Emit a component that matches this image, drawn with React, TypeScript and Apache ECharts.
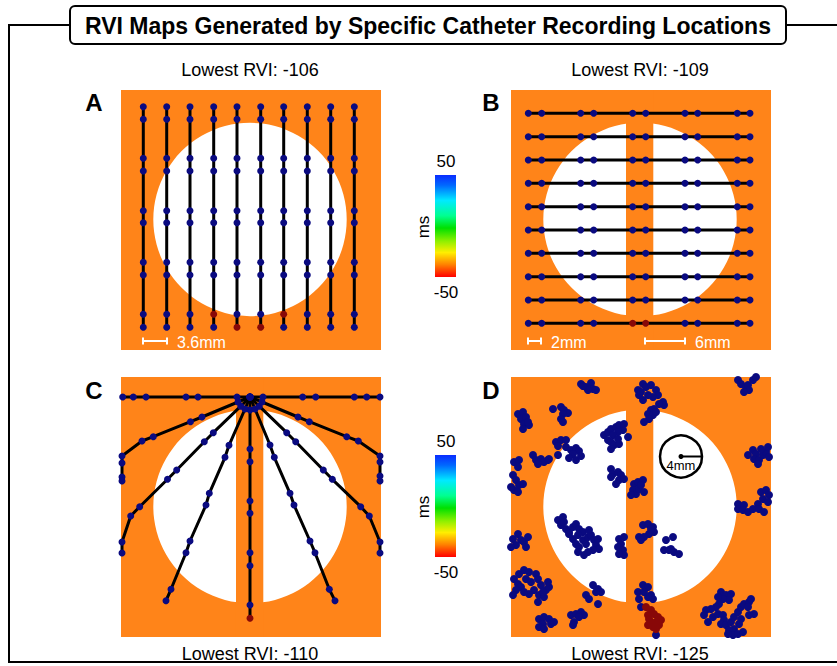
import React, { useEffect, useRef } from "react";
import * as echarts from "echarts";

// ---------- DATA (panel-local units, 0..260, origin at the top-left of each map) ----------
const TITLE = "RVI Maps Generated by Specific Catheter Recording Locations";
const PANEL_LETTERS = ["A", "B", "C", "D"];
const LOWEST_RVI = [-106, -109, -110, -125];
const COLORBAR_TICKS = ["50", "-50"];
const COLORBAR_UNIT = "ms";
const SCALE_LABELS = ["3.6mm", "2mm", "6mm"];
const RADIUS_LABEL = "4mm";

// tissue geometry: [kind(0 circle / 1 strip), a, b, c]
const CIRCLE = [0, 129, 129.5, 96.7];
const STRIP = [1, 115, 142.3, 0];

// Panel A: vertical catheters
const A_LINE_X = [22.3, 45.7, 69, 92.7, 116, 139.7, 162.7, 186.3, 209.7, 233.3];
const A_POINT_Y = [16.7, 29.3, 68.3, 81, 120.7, 132.7, 172.3, 185, 224.3, 237.3];
const A_RED: [number, number][] = [[92.7, 224.3], [116, 237.3], [139.7, 237.3], [162.7, 224.3]];

// Panel B: horizontal catheters
const B_LINE_Y = [23.3, 46.7, 70, 93.3, 116.7, 140, 163.3, 186.7, 210, 233.3];
const B_POINT_X = [17.3, 30.7, 69.7, 82.7, 121.7, 134.7, 174, 186.7, 226.3, 239];
const B_RED: [number, number][] = [[121.7, 233.3], [134.7, 233.3]];

// Panel C: radial catheters from a hub
const C_SPOKES: [number, number][][] = [
  [[129, 20], [129, 33], [129, 72], [129, 84.7], [129, 124], [129, 136.3], [129, 175.7], [129, 188.7], [129, 228], [129, 241.3]],
  [[129, 20], [134, 32], [149, 68], [153.3, 80.3], [169, 116.3], [173, 128], [189, 164], [194, 175.7], [208.3, 212.3], [214, 223.7]],
  [[129, 20], [124, 32], [108, 68.3], [104, 80.3], [88.3, 116.3], [85, 128], [69, 164], [65, 175.7], [50, 212.3], [45, 223.7]],
  [[129, 20], [138.2, 29.2], [165.7, 55.7], [174.7, 64.7], [202.3, 93], [211.3, 102.3], [239.7, 129.7], [248.3, 139], [259, 165], [259, 176]],
  [[129, 20], [119.8, 29.2], [92.3, 55.7], [83.3, 64.7], [55.7, 93], [46.5, 102.3], [18.7, 129.7], [9.7, 139], [1, 165], [1, 176]],
  [[129, 20], [141, 25], [177, 40], [188.3, 44.7], [225.7, 59.7], [237.3, 64], [259, 79], [259, 85], [259, 99], [259, 104]],
  [[129, 20], [117, 25], [81, 40], [69.5, 44.7], [32.3, 59.7], [21, 64], [1, 79], [1, 86], [1, 100], [1, 104]],
  [[129, 20], [142, 20], [181.7, 20], [194.7, 20], [233.3, 20], [245.7, 20], [259, 20]],
  [[129, 20], [116, 20], [77, 20], [65, 20], [25, 20], [12.3, 20], [1.7, 20]],
];
const C_RED: [number, number][] = [[129, 241.3]];

// Panel D: scattered recording points
const D_BLUE: [number, number][] = [
  [70, 7], [75, 10], [80, 6], [82, 12], [85, 13], [77, 13], [72, 9],
  [127, 13], [128, 18],
  [7, 37], [12, 35], [10, 42], [15, 40], [13, 47], [18, 48], [12, 52], [17, 45],
  [42, 32], [50, 30], [53, 33], [57, 36], [52, 37], [50, 42], [52, 45],
  [45, 65], [50, 63], [55, 63], [47, 69], [55, 70], [60, 73], [65, 71], [68, 74], [62, 77], [58, 81], [65, 83], [70, 79], [47, 78],
  [22, 78], [25, 83], [30, 82], [33, 85], [37, 83], [27, 87], [38, 82],
  [3, 85], [8, 83], [7, 90], [2, 98], [5, 103], [8, 108], [12, 107], [3, 113], [7, 115], [0, 110],
  [93, 58], [97, 55], [100, 52], [105, 50], [108, 48], [112, 53], [107, 55], [102, 58], [97, 63], [100, 65], [103, 68], [108, 67], [100, 72], [117, 60], [107, 62], [113, 47],
  [100, 92], [102, 97], [107, 95], [110, 98], [108, 103], [113, 102], [105, 107], [100, 100],
  [123, 107], [127, 105], [122, 113], [125, 117], [128, 112], [120, 118],
  [132, 7], [135, 10], [140, 8], [145, 13], [147, 18], [142, 20], [137, 18], [152, 25], [153, 28], [148, 27], [143, 32], [140, 33], [137, 37], [142, 38], [138, 42], [145, 35], [133, 45], [130, 15], [132, 23],
  [227, 3], [230, 7], [235, 10], [238, 13], [237, 8], [242, 3], [245, 0], [233, 15],
  [237, 78], [242, 73], [245, 77], [243, 82], [248, 83], [252, 78], [255, 75], [257, 70], [250, 72], [258, 80], [247, 87],
  [250, 115], [255, 113], [258, 118], [252, 122], [257, 125], [247, 127], [227, 127], [233, 128],
  [132, 103], [130, 108], [133, 115],
  [47, 143], [52, 140], [50, 148], [55, 152], [58, 155], [62, 150], [65, 147], [68, 152], [72, 155], [67, 158], [62, 162], [65, 167], [68, 170], [72, 163], [75, 167], [77, 160], [80, 158], [83, 163], [85, 168], [88, 172], [82, 173], [77, 175], [73, 178], [67, 175], [58, 157], [53, 145], [78, 153], [87, 162],
  [108, 162], [113, 160], [110, 167], [107, 170], [112, 173], [113, 178], [108, 177],
  [2, 162], [7, 157], [10, 163], [5, 168], [13, 165], [15, 170], [17, 160], [0, 170],
  [3, 202], [7, 207], [10, 210], [5, 213], [8, 197], [13, 193], [18, 195], [15, 202], [20, 205], [25, 197], [27, 202], [30, 208], [23, 213], [18, 217], [28, 218], [33, 220], [27, 225], [35, 213], [38, 210], [37, 205], [2, 218], [13, 215], [32, 215],
  [82, 208], [87, 212], [90, 215], [85, 215], [75, 218], [78, 222], [87, 227],
  [60, 238], [65, 237], [70, 235], [73, 238], [68, 240], [63, 245], [62, 248],
  [28, 242], [33, 240], [38, 242], [40, 247], [32, 247], [28, 250], [33, 252], [43, 245],
  [128, 160], [127, 215], [128, 222], [130, 230],
  [132, 148], [137, 147], [142, 150], [143, 155], [138, 157], [133, 160], [130, 163], [140, 152],
  [155, 163], [162, 160], [153, 173], [158, 173], [163, 175], [168, 177], [160, 172],
  [227, 132], [232, 133], [237, 135], [242, 132], [248, 132], [253, 135],
  [132, 208], [137, 210], [133, 215], [140, 218], [142, 222], [137, 220],
  [145, 258],
  [210, 215], [215, 218], [220, 217], [218, 223], [212, 222], [207, 220], [208, 227], [205, 230], [200, 232], [195, 233], [193, 238], [197, 245], [202, 240], [207, 237], [212, 238], [213, 243], [210, 247], [215, 248], [220, 245], [223, 240], [227, 235], [230, 230], [233, 227], [238, 225], [240, 222], [237, 230], [243, 237], [238, 238], [230, 242], [228, 247], [223, 252], [218, 253], [222, 258], [227, 257], [232, 255], [217, 257],
];
const D_RED: [number, number][] = [
  [135, 230], [140, 233], [143, 237], [147, 240], [137, 238], [140, 245], [145, 245], [148, 248], [137, 248], [142, 250], [145, 252], [150, 243], [138, 242],
];
// scale bars: [x0, x1, y, labelIndex]
const A_SCALEBARS = [[22, 46, 251, 0]];
const B_SCALEBARS = [[17, 30, 251, 1], [134, 174, 251, 2]];
// radius marker in D: [cx, cy, r]
const D_RADIUS = [[170, 79.5, 21]];

// ---------- STYLE ----------
const ORANGE = "#ff8419";
const NAVY = "#0a0a80";
const DARKRED = "#880808";
const FONT = "'Liberation Sans', Arial, Helvetica, sans-serif";
const PANELS = [
  { left: 121, top: 90 },
  { left: 511, top: 90 },
  { left: 121, top: 377 },
  { left: 511, top: 377 },
];
const SIZE = 260;

function isRed(list: [number, number][], x: number, y: number) {
  return list.some((p) => p[0] === x && p[1] === y);
}

function shapeSeries(i: number, withStrip: boolean) {
  return {
    type: "custom",
    xAxisIndex: i,
    yAxisIndex: i,
    silent: true,
    clip: true,
    z: 1,
    data: withStrip ? [CIRCLE, STRIP] : [CIRCLE],
    renderItem: (params: any, api: any) => {
      const kind = api.value(0);
      if (kind === 0) {
        const c = api.coord([api.value(1), api.value(2)]);
        const r = api.size([api.value(3), 0])[0];
        return { type: "circle", shape: { cx: c[0], cy: c[1], r }, style: { fill: "#ffffff" } };
      }
      const p0 = api.coord([api.value(1), 0]);
      const p1 = api.coord([api.value(2), SIZE]);
      return {
        type: "rect",
        shape: { x: p0[0], y: Math.min(p0[1], p1[1]), width: p1[0] - p0[0], height: Math.abs(p1[1] - p0[1]) },
        style: { fill: ORANGE },
      };
    },
  };
}

function lineSeries(i: number, pts: number[][]) {
  return {
    type: "line",
    xAxisIndex: i,
    yAxisIndex: i,
    data: pts,
    showSymbol: false,
    silent: true,
    clip: true,
    z: 2,
    lineStyle: { color: "#000", width: 3 },
  };
}

function pointSeries(i: number, pts: { value: number[]; red: boolean }[], size: number) {
  return {
    type: "scatter",
    xAxisIndex: i,
    yAxisIndex: i,
    symbolSize: size,
    silent: true,
    clip: true,
    z: 3,
    data: pts.map((p) => ({ value: p.value, itemStyle: { color: p.red ? DARKRED : NAVY, opacity: 1 } })),
  };
}

function scaleBarSeries(i: number, bars: number[][]) {
  return {
    type: "custom",
    xAxisIndex: i,
    yAxisIndex: i,
    silent: true,
    z: 4,
    data: bars,
    renderItem: (params: any, api: any) => {
      const p0 = api.coord([api.value(0), api.value(2)]);
      const p1 = api.coord([api.value(1), api.value(2)]);
      const st = { stroke: "#ffffff", lineWidth: 2 };
      return {
        type: "group",
        children: [
          { type: "line", shape: { x1: p0[0], y1: p0[1], x2: p1[0], y2: p1[1] }, style: st },
          { type: "line", shape: { x1: p0[0], y1: p0[1] - 3.5, x2: p0[0], y2: p0[1] + 3.5 }, style: st },
          { type: "line", shape: { x1: p1[0], y1: p1[1] - 3.5, x2: p1[0], y2: p1[1] + 3.5 }, style: st },
          {
            type: "text",
            x: p1[0] + 10,
            y: p1[1] + 1,
            style: { text: SCALE_LABELS[api.value(3)], fill: "#ffffff", font: `16px ${FONT}`, align: "left", verticalAlign: "middle" },
          },
        ],
      };
    },
  };
}

function radiusSeries(i: number) {
  return {
    type: "custom",
    xAxisIndex: i,
    yAxisIndex: i,
    silent: true,
    z: 4,
    data: D_RADIUS,
    renderItem: (params: any, api: any) => {
      const c = api.coord([api.value(0), api.value(1)]);
      const r = api.size([api.value(2), 0])[0];
      return {
        type: "group",
        children: [
          { type: "circle", shape: { cx: c[0], cy: c[1], r }, style: { fill: "none", stroke: "#000", lineWidth: 2.5 } },
          { type: "line", shape: { x1: c[0], y1: c[1], x2: c[0] + r, y2: c[1] }, style: { stroke: "#000", lineWidth: 2 } },
          { type: "circle", shape: { cx: c[0], cy: c[1], r: 2.5 }, style: { fill: "#000" } },
          {
            type: "text",
            x: c[0],
            y: c[1] + 9,
            style: { text: RADIUS_LABEL, fill: "#000", font: `13px ${FONT}`, align: "center", verticalAlign: "middle" },
          },
        ],
      };
    },
  };
}

function buildOption() {
  const series: any[] = [];
  // A
  series.push(shapeSeries(0, false));
  A_LINE_X.forEach((x) => series.push(lineSeries(0, [[x, A_POINT_Y[0]], [x, A_POINT_Y[A_POINT_Y.length - 1]]])));
  const aPts: { value: number[]; red: boolean }[] = [];
  A_LINE_X.forEach((x) => A_POINT_Y.forEach((y) => aPts.push({ value: [x, y], red: isRed(A_RED, x, y) })));
  series.push(pointSeries(0, aPts, 7));
  series.push(scaleBarSeries(0, A_SCALEBARS));
  // B
  series.push(shapeSeries(1, true));
  B_LINE_Y.forEach((y) => series.push(lineSeries(1, [[B_POINT_X[0], y], [B_POINT_X[B_POINT_X.length - 1], y]])));
  const bPts: { value: number[]; red: boolean }[] = [];
  B_LINE_Y.forEach((y) => B_POINT_X.forEach((x) => bPts.push({ value: [x, y], red: isRed(B_RED, x, y) })));
  series.push(pointSeries(1, bPts, 7));
  series.push(scaleBarSeries(1, B_SCALEBARS));
  // C
  series.push(shapeSeries(2, true));
  C_SPOKES.forEach((s) => series.push(lineSeries(2, s)));
  const cPts: { value: number[]; red: boolean }[] = [];
  C_SPOKES.forEach((s) => s.forEach((p) => cPts.push({ value: p, red: isRed(C_RED, p[0], p[1]) })));
  series.push(pointSeries(2, cPts, 7));
  // D
  series.push(shapeSeries(3, true));
  const dPts = D_BLUE.map((p) => ({ value: p, red: false })).concat(D_RED.map((p) => ({ value: p, red: true })));
  series.push(pointSeries(3, dPts, 8));
  series.push(radiusSeries(3));

  const grid = PANELS.map((p) => ({
    left: p.left,
    top: p.top,
    width: SIZE,
    height: SIZE,
    show: true,
    backgroundColor: ORANGE,
    borderWidth: 0,
    containLabel: false,
  }));
  const xAxis = PANELS.map((_, i) => ({ type: "value", gridIndex: i, min: 0, max: SIZE, show: false }));
  const yAxis = PANELS.map((_, i) => ({ type: "value", gridIndex: i, min: 0, max: SIZE, inverse: true, show: false }));

  const gradient = () =>
    new echarts.graphic.LinearGradient(0, 0, 0, 1, [
      { offset: 0, color: "#0a2cff" },
      { offset: 0.1, color: "#0068ff" },
      { offset: 0.25, color: "#00eaff" },
      { offset: 0.4, color: "#00ff90" },
      { offset: 0.52, color: "#00e000" },
      { offset: 0.65, color: "#90f000" },
      { offset: 0.76, color: "#ffee00" },
      { offset: 0.88, color: "#ff8000" },
      { offset: 1, color: "#ff0000" },
    ]);

  const graphic: any[] = [
    { type: "polyline", shape: { points: [[70, 25], [9, 25], [9, 662], [837, 662]] }, style: { stroke: "#000", lineWidth: 2, fill: "none" }, silent: true },
    { type: "line", shape: { x1: 786, y1: 25, x2: 837, y2: 25 }, style: { stroke: "#000", lineWidth: 2 }, silent: true },
    { type: "rect", shape: { x: 70, y: 6, width: 716, height: 38, r: 5 }, style: { fill: "#fff", stroke: "#000", lineWidth: 2 }, silent: true },
    { type: "text", x: 428, y: 26, style: { text: TITLE, font: `bold 23px ${FONT}`, fill: "#000", align: "center", verticalAlign: "middle" }, silent: true },
  ];
  const labelPos = [
    [250, 70],
    [640, 70],
    [250, 654],
    [640, 654],
  ];
  const letterPos = [
    [94, 102],
    [491, 102],
    [94, 390],
    [491, 390],
  ];
  PANELS.forEach((_, i) => {
    graphic.push({
      type: "text",
      x: labelPos[i][0],
      y: labelPos[i][1],
      style: { text: `Lowest RVI: ${LOWEST_RVI[i]}`, font: `18px ${FONT}`, fill: "#000", align: "center", verticalAlign: "middle" },
      silent: true,
    });
    graphic.push({
      type: "text",
      x: letterPos[i][0],
      y: letterPos[i][1],
      style: { text: PANEL_LETTERS[i], font: `bold 24px ${FONT}`, fill: "#000", align: "center", verticalAlign: "middle" },
      silent: true,
    });
  });
  [175, 455].forEach((top) => {
    graphic.push({ type: "rect", shape: { x: 435, y: top, width: 21, height: 102 }, style: { fill: gradient() }, silent: true });
    graphic.push({
      type: "text",
      x: 446,
      y: top - 14,
      style: { text: COLORBAR_TICKS[0], font: `17px ${FONT}`, fill: "#000", align: "center", verticalAlign: "middle" },
      silent: true,
    });
    graphic.push({
      type: "text",
      x: 446,
      y: top + 117,
      style: { text: COLORBAR_TICKS[1], font: `17px ${FONT}`, fill: "#000", align: "center", verticalAlign: "middle" },
      silent: true,
    });
    graphic.push({
      type: "text",
      x: 423,
      y: top + 52,
      rotation: Math.PI / 2,
      style: { text: COLORBAR_UNIT, font: `17px ${FONT}`, fill: "#000", align: "center", verticalAlign: "middle" },
      silent: true,
    });
  });

  return {
    animation: false,
    backgroundColor: "#ffffff",
    grid,
    xAxis,
    yAxis,
    series,
    graphic,
  };
}

export default function App() {
  const ref = useRef<HTMLDivElement>(null);
  useEffect(() => {
    document.body.style.margin = "0";
    const chart = echarts.init(ref.current as HTMLDivElement, null, { renderer: "svg" });
    chart.setOption(buildOption() as any);
    return () => chart.dispose();
  }, []);
  return <div ref={ref} style={{ width: 837, height: 666 }} />;
}
